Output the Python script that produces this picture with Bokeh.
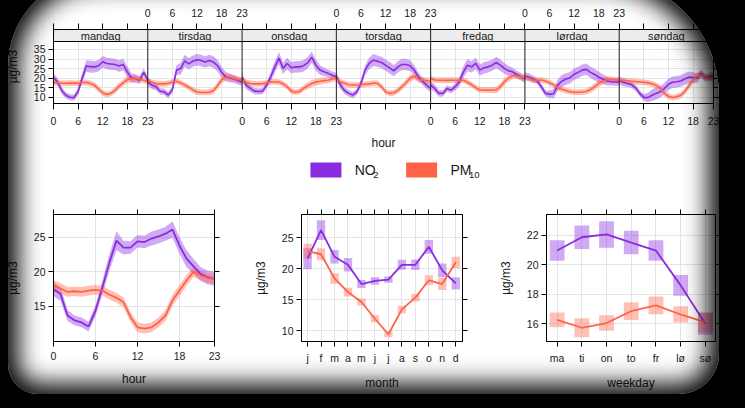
from bokeh.plotting import figure
from bokeh.models import (Range1d, FixedTicker, Span, Label, LinearAxis, GlobalInlineStyleSheet)
from bokeh.layouts import column, row
from bokeh.embed import file_html
from bokeh.resources import INLINE
from bokeh.core.properties import value

FONT = "Liberation Sans"
NO2_COL = "#8a2be2"
PM_COL = "#ff6347"
GRID_COL = "#e4e4e4"
TICK_FS = "10.5px"
LAB_FS = "12px"

# ---------------- data ----------------
days = ["mandag", "tirsdag", "onsdag", "torsdag", "fredag", "lørdag", "søndag"]
hours = list(range(24))
hour_ticks = [0, 6, 12, 18, 23]

no2_mon = [20.5, 18.0, 13.5, 11.0, 10.0, 9.8, 13.0, 20.0, 26.4, 26.0, 25.9, 26.5, 28.6, 27.7, 27.4, 27.1, 26.4, 27.1, 23.3, 20.1, 19.8, 18.9, 23.0, 18.9]
no2_tue = [18.0, 16.3, 15.5, 13.1, 12.8, 11.1, 14.0, 24.2, 24.9, 29.0, 27.5, 28.9, 29.6, 29.2, 28.4, 29.2, 28.4, 26.6, 23.1, 20.8, 20.1, 19.6, 18.7, 17.9]
no2_wed = [20.2, 16.3, 14.6, 13.2, 13.0, 13.2, 16.3, 20.7, 25.9, 30.5, 25.1, 27.7, 25.4, 25.9, 25.9, 26.5, 28.0, 31.0, 26.8, 24.2, 23.3, 22.5, 21.5, 20.7]
no2_thu = [21.0, 16.3, 13.5, 12.0, 11.1, 12.8, 17.2, 24.2, 27.7, 29.4, 28.9, 28.2, 26.8, 25.4, 23.8, 25.9, 27.1, 27.1, 26.5, 24.2, 20.7, 18.4, 16.3, 14.6]
no2_fri = [16.3, 14.6, 12.0, 12.0, 14.6, 13.7, 15.5, 18.1, 23.3, 26.8, 25.9, 27.7, 24.2, 25.4, 25.9, 26.8, 28.2, 26.8, 25.1, 23.8, 23.3, 21.9, 20.7, 19.5]
no2_sat = [21.0, 20.5, 19.5, 18.5, 15.5, 12.0, 11.5, 11.8, 16.3, 18.4, 19.5, 20.2, 22.0, 23.0, 24.2, 24.6, 23.0, 21.9, 20.5, 19.5, 18.5, 18.1, 18.0, 18.0]
no2_sun = [18.9, 17.8, 17.2, 16.6, 14.9, 12.0, 9.9, 9.8, 11.0, 12.0, 12.8, 14.5, 16.8, 17.8, 18.1, 18.5, 19.5, 20.5, 20.3, 20.0, 22.5, 20.2, 20.8, 21.2]

pm_mon = [17.8, 17.5, 17.3, 17.3, 17.4, 17.4, 17.3, 17.6, 17.8, 17.2, 16.3, 14.2, 12.3, 11.4, 12.0, 13.6, 15.8, 17.5, 19.2, 19.6, 19.8, 19.4, 18.9, 18.1]
pm_tue = [18.6, 17.8, 17.2, 17.0, 17.0, 17.3, 18.0, 18.4, 17.5, 16.4, 15.2, 13.8, 12.7, 12.5, 12.5, 12.6, 13.4, 16.0, 19.0, 20.4, 20.6, 19.8, 19.3, 18.9]
pm_wed = [18.9, 17.8, 17.2, 17.0, 17.0, 17.1, 17.5, 18.1, 18.0, 17.9, 17.0, 15.5, 13.2, 12.6, 13.0, 14.6, 16.0, 17.2, 17.9, 18.4, 18.7, 18.9, 19.5, 20.2]
pm_thu = [19.5, 18.0, 17.3, 16.5, 16.4, 16.4, 16.5, 16.8, 17.0, 17.3, 17.3, 15.5, 12.9, 12.0, 12.3, 13.5, 15.5, 17.6, 19.9, 21.1, 19.4, 19.0, 18.7, 18.2]
pm_fri = [19.8, 19.0, 18.9, 18.9, 18.8, 18.9, 18.9, 18.9, 18.9, 17.8, 16.5, 15.0, 13.8, 13.8, 13.7, 13.8, 13.8, 15.5, 18.1, 20.0, 21.2, 21.2, 20.6, 20.2]
pm_sat = [20.5, 19.8, 19.0, 18.9, 19.0, 18.5, 17.5, 16.5, 15.0, 14.2, 13.5, 12.9, 12.6, 12.6, 12.7, 13.0, 14.0, 15.5, 17.2, 18.4, 19.3, 19.2, 19.0, 18.9]
pm_sun = [18.9, 18.7, 18.6, 18.4, 18.2, 18.0, 17.8, 17.5, 17.0, 16.3, 14.8, 12.0, 10.5, 9.8, 10.2, 11.0, 13.0, 16.0, 19.0, 21.0, 21.8, 20.5, 19.8, 20.2]

# half-width of the 95% CI in the day-hour panels (by hour)
no2_dh_ci = [2.0, 2.0, 1.8, 1.6, 1.6, 1.6, 1.8, 2.5, 3.0, 3.2, 3.0, 3.0, 3.0, 3.0, 3.0, 3.0, 3.0, 3.0, 2.8, 2.5, 2.2, 2.0, 2.0, 2.0]
pm_dh_ci = [1.6, 1.5, 1.5, 1.5, 1.5, 1.5, 1.5, 1.5, 1.5, 1.5, 1.5, 1.5, 1.5, 1.5, 1.5, 1.6, 1.7, 1.8, 1.8, 1.8, 1.7, 1.6, 1.6, 1.6]

# hour of day
no2_hour = [17.5, 16.8, 13.7, 13.0, 12.7, 12.1, 14.4, 17.8, 21.4, 24.5, 23.5, 23.5, 24.4, 24.3, 24.8, 25.1, 25.5, 26.1, 23.8, 21.9, 20.8, 19.7, 19.2, 19.0]
no2_hour_ci = [1.0, 1.0, 0.8, 0.7, 0.7, 0.7, 0.8, 1.0, 1.2, 1.4, 1.0, 0.9, 0.9, 0.9, 1.0, 1.0, 1.0, 1.2, 1.2, 1.2, 1.1, 1.0, 1.0, 1.0]
pm_hour = [18.0, 17.6, 17.1, 17.2, 17.1, 17.3, 17.4, 17.3, 16.7, 16.25, 15.6, 13.5, 12.0, 11.8, 12.0, 12.7, 13.7, 15.9, 17.3, 18.75, 20.0, 19.5, 19.1, 19.0]
pm_hour_ci = [0.8, 0.8, 0.7, 0.7, 0.7, 0.7, 0.7, 0.7, 0.7, 0.7, 0.7, 0.7, 0.7, 0.7, 0.7, 0.7, 0.8, 0.8, 0.8, 0.8, 0.7, 0.7, 0.7, 0.7]

# month
month_idx = list(range(1, 13))
month_labels = ["j", "f", "m", "a", "m", "j", "j", "a", "s", "o", "n", "d"]
no2_month = [21.6, 26.2, 21.9, 20.6, 17.5, 18.0, 18.2, 20.6, 20.6, 23.5, 19.7, 17.6]
no2_month_ci = [1.7, 1.6, 1.1, 1.1, 0.65, 0.6, 0.5, 0.8, 0.85, 1.1, 1.1, 1.0]
pm_month = [22.8, 22.3, 18.4, 16.2, 14.6, 11.9, 9.4, 13.4, 15.3, 18.1, 17.5, 21.0]
pm_month_ci = [1.2, 0.95, 0.85, 0.7, 0.55, 0.55, 0.5, 0.6, 0.6, 0.8, 0.95, 0.9]

# weekday
wd_idx = list(range(1, 8))
wd_labels = ["ma", "ti", "on", "to", "fr", "lø", "sø"]
no2_wd = [20.96, 21.86, 22.05, 21.5, 20.96, 18.6, 16.0]
no2_wd_ci = [0.7, 0.8, 0.9, 0.8, 0.7, 0.7, 0.75]
pm_wd = [16.27, 15.73, 16.05, 16.86, 17.24, 16.63, 16.1]
pm_wd_ci = [0.5, 0.65, 0.53, 0.6, 0.6, 0.55, 0.67]

no2_days = [no2_mon, no2_tue, no2_wed, no2_thu, no2_fri, no2_sat, no2_sun]
pm_days = [pm_mon, pm_tue, pm_wed, pm_thu, pm_fri, pm_sat, pm_sun]


# ---------------- helpers ----------------
def style_axis(ax, ticks, overrides=None, label=None, labels=True,
               standoff=3, label_standoff=8, tick_out=5):
    ax.ticker = FixedTicker(ticks=ticks, minor_ticks=[])
    ax.major_tick_in = 0
    ax.major_tick_out = tick_out
    ax.minor_tick_line_color = None
    ax.axis_line_color = "black"
    ax.major_tick_line_color = "black"
    ax.major_label_text_font = FONT
    ax.major_label_text_font_size = TICK_FS
    ax.major_label_text_color = "#1a1a1a"
    ax.major_label_standoff = standoff
    if not labels:
        ax.major_label_overrides = {t: "" for t in ticks}
    elif overrides is not None:
        ax.major_label_overrides = overrides
    if label:
        ax.axis_label = label
        ax.axis_label_text_font = FONT
        ax.axis_label_text_font_size = LAB_FS
        ax.axis_label_text_font_style = "normal"
        ax.axis_label_text_color = "#1a1a1a"
        ax.axis_label_standoff = label_standoff


def base_fig(xr, yr, fw, fh, bl, br, bt, bb):
    p = figure(x_range=xr, y_range=yr, frame_width=fw, frame_height=fh,
               min_border_left=bl, min_border_right=br, min_border_top=bt,
               min_border_bottom=bb, output_backend="svg", toolbar_location=None)
    p.outline_line_color = "black"
    p.outline_line_width = 1
    p.xgrid.grid_line_color = GRID_COL
    p.ygrid.grid_line_color = GRID_COL
    return p


def four_axes(p, xt, yt, xover=None, xlabel=None, ylabel=None):
    style_axis(p.xaxis[0], xt, overrides=xover, label=xlabel, standoff=5, label_standoff=9)
    style_axis(p.yaxis[0], yt, label=ylabel, standoff=3, label_standoff=11)
    p.xgrid.ticker = FixedTicker(ticks=xt, minor_ticks=[])
    p.ygrid.ticker = FixedTicker(ticks=yt, minor_ticks=[])
    above = LinearAxis()
    style_axis(above, xt, labels=False, standoff=0)
    p.add_layout(above, "above")
    right = LinearAxis()
    style_axis(right, yt, labels=False, standoff=0)
    p.add_layout(right, "right")


# ---------------- top: day x hour ----------------
Y0, Y1 = 6.70, 39.19
STRIP_TOP = 45.48
NPAN = len(days)
span_x = 23

top = base_fig(Range1d(0, span_x * NPAN), Range1d(Y0, STRIP_TOP), 660, 74, 53, 32, 29, 50)
xt_top = sorted(set(span_x * k + h for k in range(NPAN) for h in hour_ticks))
below_over = {t: "" for t in xt_top}
above_over = {t: "" for t in xt_top}
for k in range(NPAN):
    for h in hour_ticks:
        if k % 2 == 0:
            below_over[span_x * k + h] = str(h)
        else:
            above_over[span_x * k + h] = str(h)
style_axis(top.xaxis[0], xt_top, overrides=below_over, label="hour", standoff=7,
           label_standoff=8, tick_out=6)
y_top_ticks = [10, 15, 20, 25, 30, 35]
style_axis(top.yaxis[0], y_top_ticks, label="µg/m3", standoff=3, label_standoff=11)
top.xgrid.ticker = FixedTicker(ticks=xt_top, minor_ticks=[])
top.ygrid.ticker = FixedTicker(ticks=y_top_ticks, minor_ticks=[])
ab = LinearAxis()
style_axis(ab, xt_top, overrides=above_over, standoff=7, tick_out=6)
top.add_layout(ab, "above")
rt = LinearAxis()
style_axis(rt, y_top_ticks, labels=False, standoff=0)
top.add_layout(rt, "right")

for col, series, ci in ((NO2_COL, no2_days, no2_dh_ci), (PM_COL, pm_days, pm_dh_ci)):
    xs, ys = [], []
    for k, vals in enumerate(series):
        xk = [span_x * k + h for h in hours]
        up = [v + c for v, c in zip(vals, ci)]
        lo = [v - c for v, c in zip(vals, ci)]
        xs.append(xk + xk[::-1])
        ys.append(up + lo[::-1])
    top.patches(xs=xs, ys=ys, fill_color=col, fill_alpha=0.4, line_color=None)
for col, series in ((NO2_COL, no2_days), (PM_COL, pm_days)):
    top.multi_line(xs=[[span_x * k + h for h in hours] for k in range(NPAN)],
                   ys=series, line_color=col, line_width=1.6)

# strips
top.quad(left=[span_x * k for k in range(NPAN)], right=[span_x * (k + 1) for k in range(NPAN)],
         bottom=Y1, top=STRIP_TOP, fill_color="#ececec", line_color=None)
top.text(x=[span_x * k + span_x / 2 for k in range(NPAN)], y=(Y1 + STRIP_TOP) / 2, text=days,
         text_font=value(FONT), text_font_size="11px", text_align="center",
         text_baseline="middle", text_color="#1a1a1a")
top.add_layout(Span(location=Y1, dimension="width", line_color="black", line_width=1))
for k in range(1, NPAN):
    top.add_layout(Span(location=span_x * k, dimension="height", line_color="#222222", line_width=1))

# ---------------- legend strip (key drawn in pixel space) ----------------
leg = figure(width=745, height=42, x_range=Range1d(0, 745), y_range=Range1d(42, 0),
             min_border=0, output_backend="svg", toolbar_location=None,
             x_axis_location=None, y_axis_location=None)
leg.outline_line_color = None
leg.grid.visible = False
key_names = ["NO", "PM"]
key_subs = ["2", "10"]
key_cols = [NO2_COL, PM_COL]
key_left = [290, 398]
leg.quad(left=key_left, right=[k + 35 for k in key_left], top=9, bottom=24,
         fill_color=key_cols, line_color=None)
leg.text(x=[k + 50 for k in key_left], y=16.5, text=key_names, text_font=value(FONT),
         text_font_size="14px", text_baseline="middle", text_color="#1a1a1a")
leg.text(x=[k + 71 for k in key_left], y=21, text=key_subs, text_font=value(FONT),
         text_font_size="9.5px", text_baseline="middle", text_color="#1a1a1a")

# ---------------- bottom-left: hour ----------------
BB = 50
bl = base_fig(Range1d(0, 23), Range1d(9.95, 28.27), 161, 127, 53, 36, 19, BB)
four_axes(bl, hour_ticks, [15, 20, 25], xlabel="hour", ylabel="µg/m3")
bl.varea(x=hours, y1=[v - c for v, c in zip(no2_hour, no2_hour_ci)],
         y2=[v + c for v, c in zip(no2_hour, no2_hour_ci)], fill_color=NO2_COL, fill_alpha=0.4)
bl.varea(x=hours, y1=[v - c for v, c in zip(pm_hour, pm_hour_ci)],
         y2=[v + c for v, c in zip(pm_hour, pm_hour_ci)], fill_color=PM_COL, fill_alpha=0.4)
bl.line(hours, no2_hour, line_color=NO2_COL, line_width=1.8)
bl.line(hours, pm_hour, line_color=PM_COL, line_width=1.8)

# ---------------- bottom-middle: month ----------------
bm = base_fig(Range1d(0.55, 12.5), Range1d(8.23, 28.71), 161, 127, 49, 30, 19, BB)
four_axes(bm, month_idx, [10, 15, 20, 25], xover={i: m for i, m in zip(month_idx, month_labels)},
          xlabel="month", ylabel="µg/m3")
bm.vbar(x=month_idx, width=0.62, bottom=[v - c for v, c in zip(no2_month, no2_month_ci)],
        top=[v + c for v, c in zip(no2_month, no2_month_ci)], fill_color=NO2_COL,
        fill_alpha=0.4, line_color=None)
bm.vbar(x=month_idx, width=0.62, bottom=[v - c for v, c in zip(pm_month, pm_month_ci)],
        top=[v + c for v, c in zip(pm_month, pm_month_ci)], fill_color=PM_COL,
        fill_alpha=0.4, line_color=None)
bm.line(month_idx, no2_month, line_color=NO2_COL, line_width=1.8)
bm.line(month_idx, pm_month, line_color=PM_COL, line_width=1.8)

# ---------------- bottom-right: weekday ----------------
br = base_fig(Range1d(0.57, 7.41), Range1d(14.80, 23.40), 169, 127, 54, 32, 19, BB)
four_axes(br, wd_idx, [16, 18, 20, 22], xover={i: d for i, d in zip(wd_idx, wd_labels)},
          xlabel="weekday", ylabel="µg/m3")
br.vbar(x=wd_idx, width=0.6, bottom=[v - c for v, c in zip(no2_wd, no2_wd_ci)],
        top=[v + c for v, c in zip(no2_wd, no2_wd_ci)], fill_color=NO2_COL,
        fill_alpha=0.4, line_color=None)
br.vbar(x=wd_idx, width=0.6, bottom=[v - c for v, c in zip(pm_wd, pm_wd_ci)],
        top=[v + c for v, c in zip(pm_wd, pm_wd_ci)], fill_color=PM_COL,
        fill_alpha=0.4, line_color=None)
br.line(wd_idx, no2_wd, line_color=NO2_COL, line_width=1.8)
br.line(wd_idx, pm_wd, line_color=PM_COL, line_width=1.8)

# ---------------- footer ----------------
foot = figure(width=745, height=16, x_range=Range1d(0, 745), y_range=Range1d(0, 16),
              min_border=0, output_backend="svg", toolbar_location=None,
              x_axis_location=None, y_axis_location=None)
foot.outline_line_color = None
foot.grid.visible = False
foot.add_layout(Label(x=372, y=9, text="mean and 95% confidence interval in mean",
                      text_font=FONT, text_font_size="11px", text_align="center",
                      text_baseline="middle", text_color="#333333"))

vignette = GlobalInlineStyleSheet(css="""
body::after {
  content: "";
  position: fixed;
  left: 8px; top: -24px; right: 26px; bottom: 14px;
  border-radius: 90px 120px 40px 30px;
  box-shadow: 0 0 0 500px #000, inset 0 0 24px 10px #000;
  pointer-events: none;
  z-index: 10000;
}
""")

layout = column(top, leg, row(bl, bm, br), foot, spacing=0)
layout.stylesheets = [vignette]

open("out.html", "w").write(file_html(layout, INLINE))
